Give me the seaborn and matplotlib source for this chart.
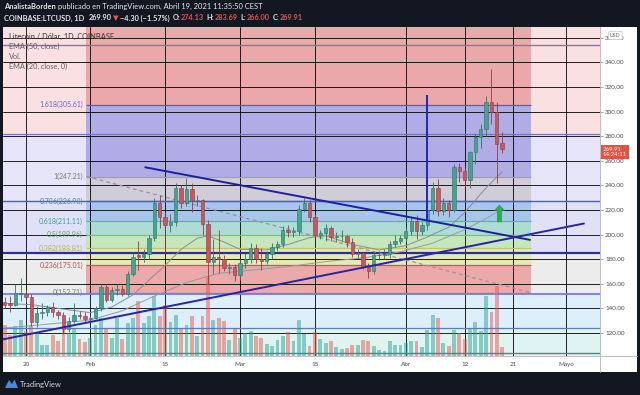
# LTC/USD diario (Coinbase) con fibonacci, EMAs y volumen, estilo TradingView
import seaborn as sns
import matplotlib.pyplot as plt
import matplotlib.dates as mdates
import matplotlib.transforms as mtransforms
from matplotlib.patches import Rectangle, Polygon
from matplotlib.lines import Line2D
import numpy as np
import pandas as pd

# ---- datos (16 ene - 19 abr 2021) ----
first_day = "2021-01-16"
opens = [145, 144, 143, 152, 152, 149, 129, 136, 137, 141, 137, 135, 123, 130, 135, 134,
         131, 132, 140, 157, 147, 155, 156, 152, 168, 183, 182, 184, 197, 226, 214, 208,
         210, 238, 226, 237, 228, 228.5, 209, 178, 182, 180, 173, 174, 167, 177, 180, 189,
         180, 178.5, 184, 190, 192, 204, 202, 203, 221, 226, 214, 200, 201, 205, 198, 198.5,
         199, 194, 184, 185, 174, 170, 183, 183.5, 184, 192, 195, 197, 203, 211, 203, 208,
         220, 238, 219, 226, 220, 255, 252, 244, 267, 279, 286, 308, 300, 274.13]
highs = [149, 150, 160, 165, 155, 152, 142, 144, 143, 145, 139, 137, 133, 144, 138, 137,
         134, 142, 160, 160, 157, 160, 159, 170, 186, 195, 188, 200, 230, 232, 218, 217,
         242, 240, 246, 242, 232, 229, 212, 196, 204, 183, 177, 176, 180, 185, 193, 192,
         189, 187, 193, 195, 207, 208, 206, 224, 230, 228, 217, 204, 209, 207, 202, 204,
         200, 197, 188, 186, 177, 185, 187, 188, 195, 200, 200, 206, 214, 216, 210, 225,
         243, 245, 230, 228, 257, 258, 255, 268, 282, 290, 313, 335, 308, 283.69]
lows = [140, 137, 142, 146, 145, 126, 125, 131, 134, 133, 131, 119, 121, 128, 131, 129,
        128, 131, 138, 145, 145, 151, 150, 150, 166, 171, 178, 180, 195, 205, 186, 202,
        207, 222, 223, 218, 223, 200, 160, 168, 169, 170, 168, 162, 163, 173, 177, 177,
        171, 176, 180, 187, 190, 198, 198, 200, 218, 210, 197, 196, 195, 195, 194, 195,
        190, 182, 181, 172, 165, 168, 179, 180, 181, 190, 192, 194, 200, 196, 200, 204,
        217, 215, 216, 214, 218, 243, 239, 238, 257, 270, 280, 290, 242, 266.00]
closes = [143, 143, 152.5, 152.5, 149, 129, 136, 137, 141, 137, 135, 123, 130, 135, 134, 131,
          132, 140, 157, 147, 155, 156, 152, 168, 182, 182, 184, 197, 226, 214, 208, 210,
          238, 226, 237, 228, 228.5, 209, 178, 182, 180, 173, 174, 167, 177, 180, 189, 180,
          178.5, 184, 190, 192, 204, 202, 203, 221, 226, 214, 200, 201, 205, 198, 198.5, 199,
          194, 184, 185, 174, 170, 183, 183.5, 184, 192, 195, 197, 203, 211, 203, 208, 220,
          238, 219, 226, 220, 255, 252, 244, 267, 279, 286, 308, 300, 274, 269.91]
volumes = [31, 21, 30, 36, 25, 31, 23, 11, 11, 21, 15, 26, 23, 28, 17, 14,
           18, 31, 38, 28, 18, 38, 17, 33, 38, 55, 33, 40, 60, 40, 51, 34,
           41, 28, 31, 40, 20, 40, 80, 36, 38, 35, 16, 28, 18, 23, 25, 20,
           18, 12, 10, 16, 20, 24, 15, 36, 22, 10, 24, 17, 13, 15, 9, 7,
           8, 11, 11, 16, 15, 10, 6, 5, 15, 11, 11, 13, 15, 15, 9, 26,
           41, 38, 13, 10, 26, 23, 17, 28, 34, 25, 60, 44, 70, 9]

ema20_dates = ["2021-01-16", "2021-01-21", "2021-01-26", "2021-02-01", "2021-02-05",
               "2021-02-09", "2021-02-12", "2021-02-15", "2021-02-18", "2021-02-21",
               "2021-02-23", "2021-02-26", "2021-03-01", "2021-03-06", "2021-03-10",
               "2021-03-14", "2021-03-17", "2021-03-22", "2021-03-27", "2021-04-01",
               "2021-04-05", "2021-04-09", "2021-04-12", "2021-04-16", "2021-04-19"]
ema20_vals = [144, 143, 140, 136.5, 141, 151, 163, 175, 188, 197, 199, 194, 188, 187.5,
              192, 197.5, 199, 192, 187.5, 191, 198, 206, 218, 238, 251]
ema50_dates = ["2021-01-16", "2021-01-25", "2021-02-01", "2021-02-07", "2021-02-13",
               "2021-02-19", "2021-02-25", "2021-03-03", "2021-03-10", "2021-03-17",
               "2021-03-24", "2021-03-31", "2021-04-06", "2021-04-12", "2021-04-16",
               "2021-04-19"]
ema50_vals = [124, 127.5, 130.5, 138, 150, 161, 168.5, 171, 174, 178, 181, 186, 193, 204,
              213, 221]

fib_levels = [0, 0.236, 0.382, 0.5, 0.618, 0.786, 1, 1.618]
fib_prices = [152.71, 175.01, 188.81, 199.96, 211.11, 226.98, 247.21, 305.61]
fib_start = "2021-01-31 07:00"
fib_end = "2021-04-24 10:00"

zone_lines = [104, 124, 152, 185, 227, 282, 354]

desc_dates = ["2021-02-11 07:00", "2021-04-24 05:00"]
desc_prices = [254.7, 195.7]
asc_dates = ["2021-01-15 03:00", "2021-05-04 07:00"]
asc_prices = [114.3, 209.0]
vline_date = "2021-04-05"
vline_prices = [212, 313.5]
arrow_date = "2021-04-18 12:00"
arrow_prices = [210, 224.5]

tick_dates = ["2021-01-20", "2021-02-01", "2021-02-15", "2021-03-01", "2021-03-15",
              "2021-04-01", "2021-04-12", "2021-04-21", "2021-05-01"]
tick_labels = ["20", "Feb", "15", "Mar", "15", "Abr", "12", "21", "Mayo"]
price_ticks = list(range(120, 361, 20))

# ---- estilo ----
sns.set_style("white")
plt.rcParams["font.family"] = ["Lato", "DejaVu Sans"]

W, H = 640, 395
fig = plt.figure(figsize=(6.4, 3.95), dpi=100, facecolor="#131722")
fig.patches.append(Rectangle((3 / W, 1 - 372 / H), 634 / W, 345 / H,
                             transform=fig.transFigure, fc="white", ec="none", zorder=-5))
ax = fig.add_axes([3 / W, 1 - 355.7 / H, 596.5 / W, 328.7 / H])
ax.set_facecolor("white")

dates = pd.date_range(first_day, periods=len(closes))
o, h, l, c = map(np.array, (opens, highs, lows, closes))
ymin, ymax = 101.5, 368.8
x0 = mdates.date2num(pd.Timestamp(first_day))
fs, fe = pd.Timestamp(fib_start), pd.Timestamp(fib_end)

# fondos de zonas (ancho completo)
zone_edges = [ymin] + zone_lines[1:6] + [ymax]
zone_cols = ["#dff4ee", "#ddeffa", "#ececec", "#e0e0f6", "#e5e4f8", "#f9e1e2"]
for lo, hi, col in zip(zone_edges[:-1], zone_edges[1:], zone_cols):
    ax.axhspan(lo, hi, color=col, lw=0, zorder=0.1)

# bandas del fibonacci
fib_edges = fib_prices + [ymax]
fib_cols = ["#eca9aa", "#e5e8b9", "#c6e6bb", "#acdcd5", "#a8c6ec", "#d0ccd8", "#b0ade6", "#eaa8ab"]
for lo, hi, col in zip(fib_edges[:-1], fib_edges[1:], fib_cols):
    ax.fill_between([fs, fe], lo, hi, color=col, lw=0, zorder=0.2)

# líneas de zonas
zone_lcols = ["#3f8f86", "#5a7cc2", "#7a7ae0", "#2b2f9a", "#4d5fc4", "#7676c8", "#8f70b0"]
zone_lw = [1.0, 0.9, 1.3, 1.6, 1.0, 0.9, 1.0]
for p, col, lw in zip(zone_lines, zone_lcols, zone_lw):
    ax.axhline(p, color=col, lw=lw, zorder=1.5)

# líneas y etiquetas del fibonacci
fib_lcols = ["#7a7ae0", "#c25a5a", "#c2c46a", "#7fbf7f", "#55b5a5", "#4d5fc4", "#a0a0b0", "#5d54cf"]
fib_tcols = ["#7a7a8a", "#cc4444", "#b3b44a", "#5aae5a", "#2ea59a", "#5a78b8", "#7a7a7a", "#6a5fc8"]
for lvl, p, lc, tc in zip(fib_levels, fib_prices, fib_lcols, fib_tcols):
    ax.hlines(p, fs, fe, color=lc, lw=0.9, zorder=1.6)
    ax.annotate(f"{lvl:g}({p:.2f})", xy=(mdates.date2num(fs), p), xytext=(-2.5, 0),
                textcoords="offset points", ha="right", va="center", fontsize=5.0,
                color=tc, zorder=5)

# línea de tendencia del fibonacci (discontinua)
ax.plot([fs, fe], [fib_prices[-2], fib_prices[0]], color="#a08f9c", lw=0.9,
        linestyle=(0, (3, 2.5)), zorder=1.7)

# volumen (altura en fracción del panel)
vol_trans = mtransforms.blended_transform_factory(ax.transData, ax.transAxes)
up = c >= o
vol_cols = [(0.15, 0.65, 0.6, 0.5) if u else (0.94, 0.33, 0.31, 0.5) for u in up]
ax.bar(dates, np.array(volumes) / 328.7, bottom=0, width=0.72, color=vol_cols,
       lw=0, transform=vol_trans, zorder=1)

# EMAs
sns.lineplot(x=pd.to_datetime(ema50_dates), y=ema50_vals, ax=ax, color="#9a9aa2",
             lw=0.7, zorder=2, legend=False)
sns.lineplot(x=pd.to_datetime(ema20_dates), y=ema20_vals, ax=ax, color="#8c8c94",
             lw=0.7, zorder=2, legend=False)

# velas
body_cols = np.where(up, "#45a390", "#c7585d")
edge_cols = np.where(up, "#2e7366", "#8e3c42")
ax.vlines(dates, l, h, colors=edge_cols, lw=0.6, zorder=3)
ax.bar(dates, np.maximum(np.abs(c - o), 0.5), bottom=np.minimum(o, c), width=0.62,
       color=body_cols, edgecolor=edge_cols, linewidth=0.4, zorder=3.1)

# líneas de tendencia
sns.lineplot(x=pd.to_datetime(desc_dates), y=desc_prices, ax=ax, color="#1f1fa0",
             lw=1.4, zorder=4, legend=False)
sns.lineplot(x=pd.to_datetime(asc_dates), y=asc_prices, ax=ax, color="#2a22a8",
             lw=1.4, zorder=4, legend=False)
ax.vlines(pd.Timestamp(vline_date), vline_prices[0], vline_prices[1], color="#2323c0",
          lw=1.4, zorder=4)
ax.annotate("", xy=(pd.Timestamp(arrow_date), arrow_prices[1]),
            xytext=(pd.Timestamp(arrow_date), arrow_prices[0]),
            arrowprops=dict(arrowstyle="simple,head_length=0.55,head_width=1.0,tail_width=0.45",
                            fc="#2eaa58", ec="none", mutation_scale=8, shrinkA=0, shrinkB=0),
            zorder=4)

# ejes
ax.set_xlim(x0 - 0.3, x0 + 111.2)
ax.set_ylim(ymin, ymax)
ax.set_xlabel("")
ax.set_ylabel("")
ax.set_axisbelow(True)
ax.grid(True, color=(0, 0, 0, 0.06), lw=0.6)
ax.set_xticks(pd.to_datetime(tick_dates))
ax.set_xticklabels(tick_labels)
ax.set_yticks(price_ticks)
ax.set_yticklabels([f"{p:.2f}" for p in price_ticks])
ax.yaxis.set_ticks_position("right")
ax.yaxis.set_label_position("right")
ax.tick_params(axis="y", length=2.5, width=0.6, color="#999999", labelsize=4.5,
               labelcolor="#4a4a4a", pad=1.5)
ax.tick_params(axis="x", length=2.5, width=0.6, color="#999999", labelsize=4.5,
               labelcolor="#4a4a4a", pad=2)
for side in ("top", "left"):
    ax.spines[side].set_visible(False)
for side in ("right", "bottom"):
    ax.spines[side].set_color("#b4b4b4")
    ax.spines[side].set_linewidth(0.6)
fig.lines.append(Line2D([599.5 / W, 599.5 / W], [1 - 355.7 / H, 1 - 372 / H],
                        transform=fig.transFigure, color="#b4b4b4", lw=0.6))
fig.lines.append(Line2D([599.5 / W, 637 / W], [1 - 355.7 / H, 1 - 355.7 / H],
                        transform=fig.transFigure, color="#b4b4b4", lw=0.6))

# etiqueta del último precio
ytrans = mtransforms.blended_transform_factory(ax.transAxes, ax.transData)
ax.annotate(f"{closes[-1]:.2f}\n14:24:11", xy=(1, closes[-1]), xycoords=ytrans,
            xytext=(2.5, -2.6), textcoords="offset points", ha="left", va="center",
            fontsize=4.3, color="white", linespacing=1.05, annotation_clip=False,
            bbox=dict(boxstyle="square,pad=0.35", fc="#df5340", ec="none"), zorder=6)
fig.text(610 / W, 1 - 35.5 / H, "USD", fontsize=3.8, color="#666666", ha="left", va="center",
         bbox=dict(boxstyle="round,pad=0.3", fc="white", ec="#c8c8c8", lw=0.5))

# leyenda del gráfico
fig.text(9 / W, 1 - 36.7 / H, "Litecoin / Dólar, 1D, COINBASE", fontsize=5.3,
         color="#4a4a4a", ha="left", va="center", fontweight="semibold")
for txt, yy in [("EMA (50, close)", 46.5), ("Vol.", 56.5), ("EMA (20, close, 0)", 66.7)]:
    fig.text(9 / W, 1 - yy / H, txt, fontsize=5.3, color="#606060", ha="left", va="center")

# cabecera
renderer = fig.canvas.get_renderer()


def put_runs(x_px, y_px, runs, size):
    x = x_px
    for txt, col, weight, gap in runs:
        t = fig.text(x / W, 1 - y_px / H, txt, color=col, fontsize=size,
                     fontweight=weight, ha="left", va="center")
        x += t.get_window_extent(renderer).width + gap


white, red = "#e6e7ea", "#f0524e"
put_runs(4, 6.5, [("AnalistaBorden", white, "bold", 2.4),
                  ("publicado en TradingView.com, Abril 19, 2021 11:35:50 CEST", white, "normal", 0)], 5.45)
put_runs(4, 18, [("COINBASE:LTCUSD, 1D", white, "bold", 4),
                 ("269.90", white, "bold", 1.5), ("▼", red, "bold", 1.5),
                 ("−4.30 (−1.57%)", white, "bold", 3),
                 ("O:", white, "bold", 0.3), ("274.13", red, "bold", 3),
                 ("H:", white, "bold", 0.3), ("283.69", red, "bold", 3),
                 ("L:", white, "bold", 0.3), ("266.00", red, "bold", 3),
                 ("C:", white, "bold", 0.3), ("269.91", red, "bold", 0)], 5.3)

# pie con logo
fig.patches.append(Polygon([(5 / W, 1 - 388 / H), (9 / W, 1 - 380 / H), (12 / W, 1 - 384 / H),
                            (14.5 / W, 1 - 379.5 / H), (18 / W, 1 - 388 / H)],
                           closed=True, transform=fig.transFigure, fc="#3d8ee6", ec="none"))
fig.text(19.5 / W, 1 - 384 / H, "TradingView", fontsize=5.4, color="#d8d9dc", ha="left", va="center")

fig.savefig("out.png", dpi=100, facecolor=fig.get_facecolor())
